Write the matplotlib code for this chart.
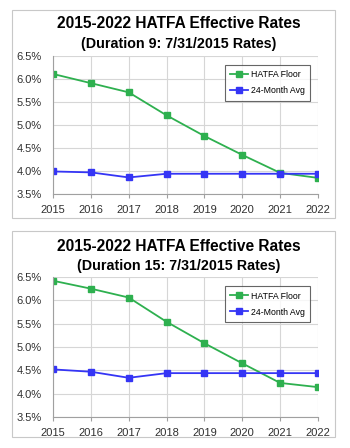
import matplotlib.pyplot as plt
from matplotlib.patches import Rectangle

years = [2015, 2016, 2017, 2018, 2019, 2020, 2021, 2022]

# Duration 9 chart
floor9 = [6.11, 5.91, 5.71, 5.21, 4.76, 4.35, 3.96, 3.85]
avg9 = [3.99, 3.97, 3.86, 3.94, 3.94, 3.94, 3.94, 3.94]

# Duration 15 chart
floor15 = [6.42, 6.25, 6.06, 5.54, 5.08, 4.65, 4.23, 4.14]
avg15 = [4.52, 4.47, 4.34, 4.44, 4.44, 4.44, 4.44, 4.44]

titles = ['(Duration 9: 7/31/2015 Rates)', '(Duration 15: 7/31/2015 Rates)']

plt.rcParams['font.family'] = ['Liberation Sans', 'DejaVu Sans']

fig = plt.figure(figsize=(3.5, 4.48), dpi=100)

# chart frames (pixel coords from top)
frames = [(12, 10, 335, 218), (12, 231, 335, 437)]
axes_pos = [(53, 56, 318, 194), (53, 277, 318, 417)]
title_y = [(24, 44), (246, 266)]

W, H = 350.0, 448.0
green = '#2eb04f'
blue = '#3535f5'

for i, (fl, av) in enumerate([(floor9, avg9), (floor15, avg15)]):
    x0, y0, x1, y1 = frames[i]
    fig.patches.append(Rectangle((x0 / W, 1 - y1 / H), (x1 - x0) / W, (y1 - y0) / H,
                                 transform=fig.transFigure, fill=False,
                                 edgecolor='#c8c8c8', linewidth=0.8))
    fig.text(0.5 + 0.01, 1 - title_y[i][0] / H, '2015-2022 HATFA Effective Rates',
             ha='center', va='center', fontsize=11.2, fontweight='bold')
    fig.text(0.5 + 0.01, 1 - title_y[i][1] / H, titles[i],
             ha='center', va='center', fontsize=10.3, fontweight='bold')

    l, t, r, b = axes_pos[i]
    ax = fig.add_axes([l / W, 1 - b / H, (r - l) / W, (b - t) / H])
    ax.plot(years, fl, '-s', color=green, markersize=4, linewidth=1.3, label='HATFA Floor')
    ax.plot(years, av, '-s', color=blue, markersize=4, linewidth=1.3, label='24-Month Avg')
    ax.set_xlim(2015, 2022)
    ax.set_ylim(3.5, 6.5)
    ax.set_xticks(years)
    ax.set_yticks([3.5, 4.0, 4.5, 5.0, 5.5, 6.0, 6.5])
    ax.set_yticklabels(['%.1f%%' % v for v in [3.5, 4.0, 4.5, 5.0, 5.5, 6.0, 6.5]])
    ax.grid(True, color='#d6d6d6', linewidth=0.8)
    ax.set_axisbelow(True)
    for s in ['top', 'right']:
        ax.spines[s].set_visible(False)
    for s in ['left', 'bottom']:
        ax.spines[s].set_color('#a0a0a0')
        ax.spines[s].set_linewidth(0.8)
    ax.tick_params(axis='x', labelsize=8, color='#a0a0a0', length=3, pad=5)
    ax.tick_params(axis='y', labelsize=8, length=0, pad=8)
    for tl in ax.get_xticklabels() + ax.get_yticklabels():
        tl.set_color('#303030')
    leg = ax.legend(loc='upper right', fontsize=6.3, frameon=True, fancybox=False,
                    edgecolor='#404040', handlelength=2.0, handletextpad=0.3,
                    borderpad=0.6, labelspacing=0.8, bbox_to_anchor=(0.985, 0.965))
    leg.get_frame().set_linewidth(0.8)

fig.savefig('out.png', dpi=100)
